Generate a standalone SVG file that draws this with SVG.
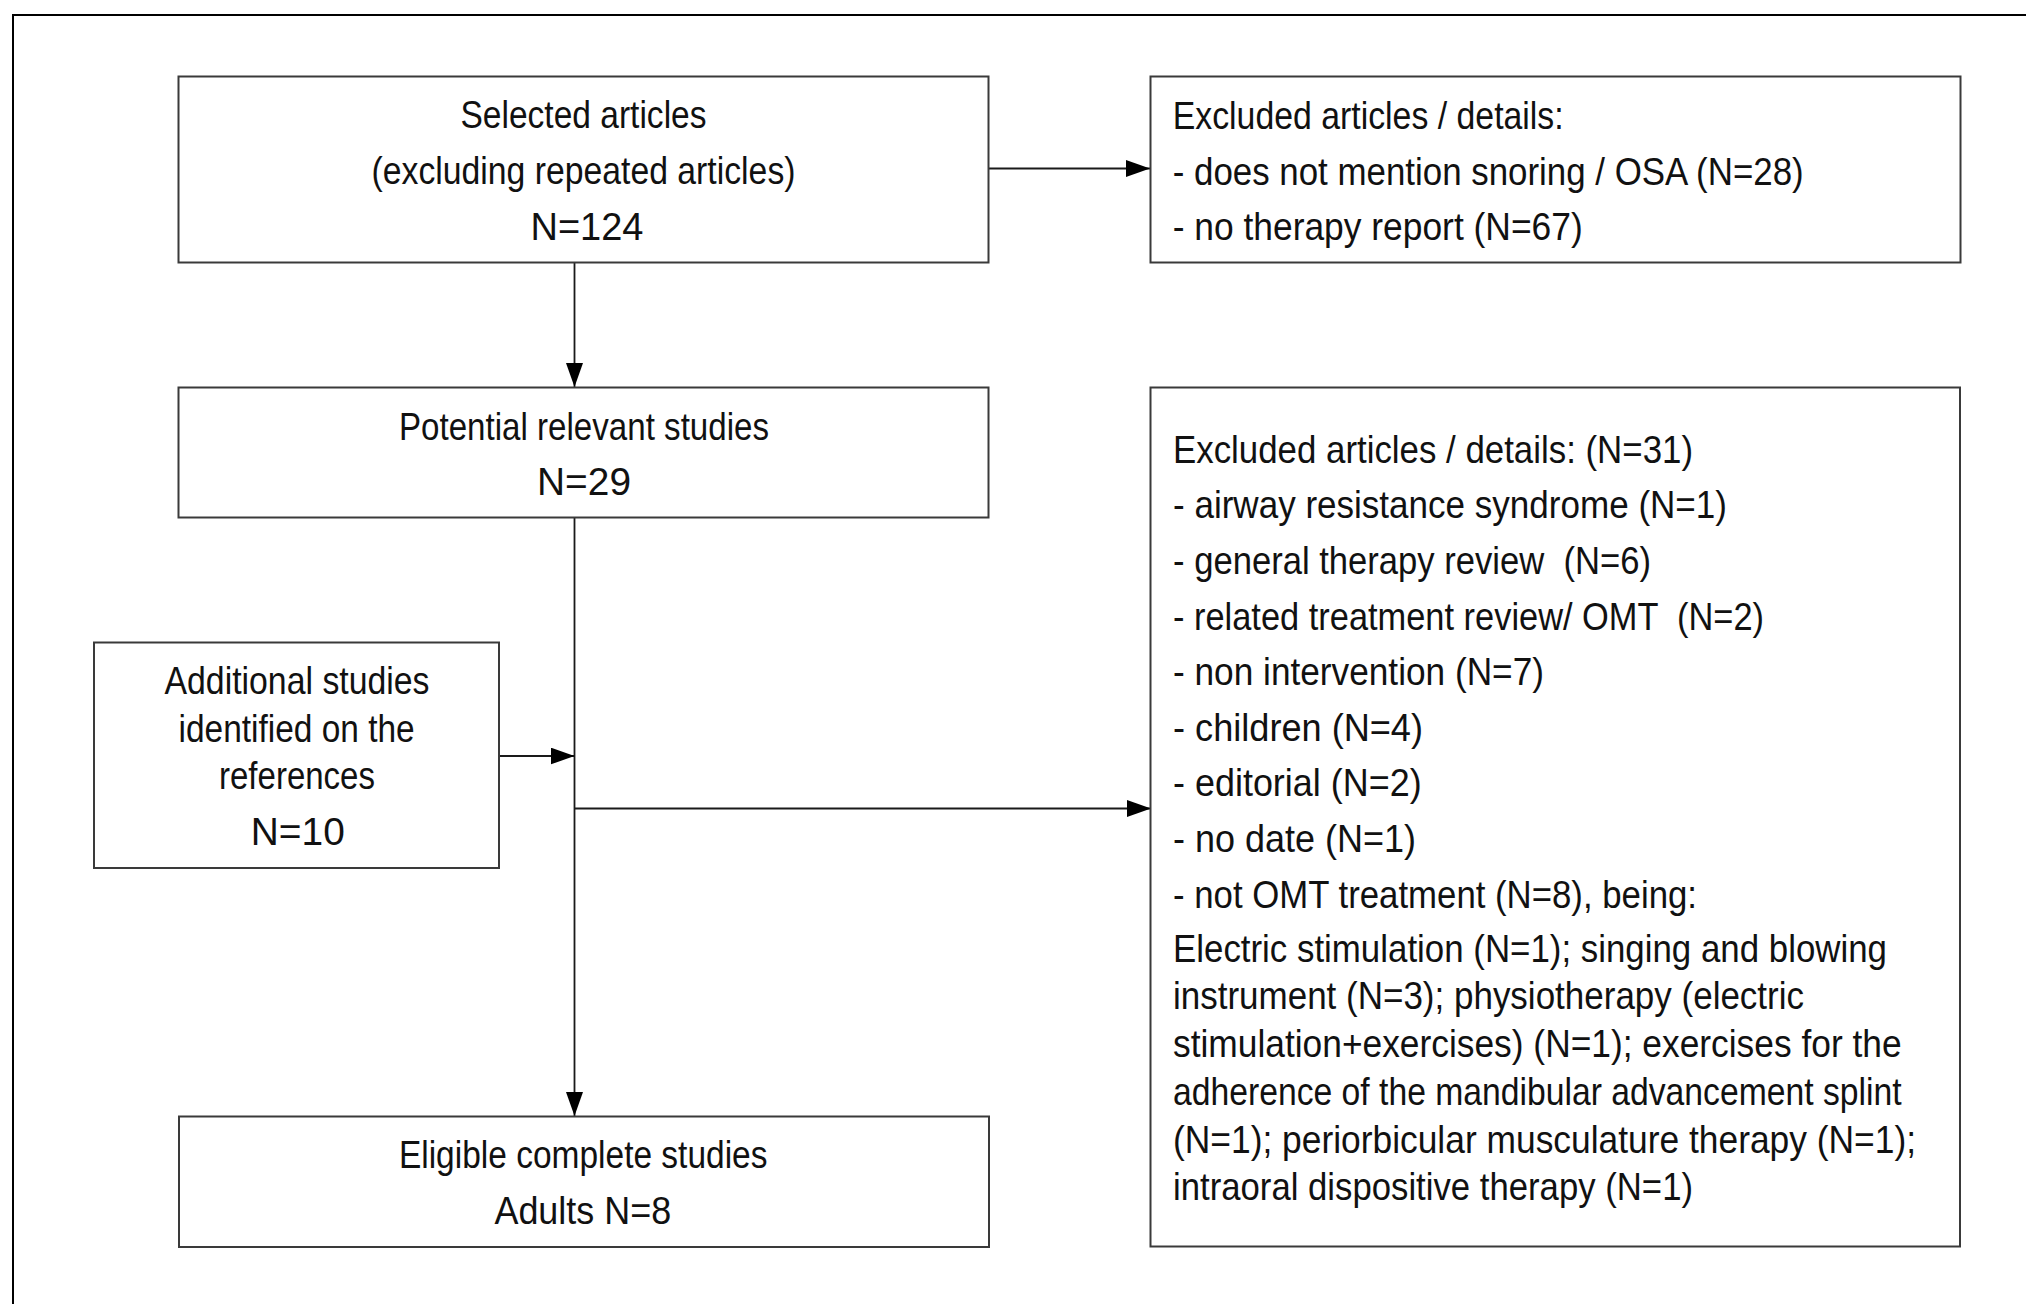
<svg xmlns="http://www.w3.org/2000/svg" width="2026" height="1304" viewBox="0 0 2026 1304">
<style>
.box{fill:#fff;stroke:#3a3a3a;stroke-width:2}
.t{font-family:"Liberation Sans",Arial,sans-serif;font-size:39px;fill:#111;white-space:pre}
.c{text-anchor:middle}
.con{stroke:#1a1a1a;stroke-width:1.8;fill:none}
</style>
<defs>
<marker id="ah" markerUnits="userSpaceOnUse" markerWidth="24" markerHeight="17" refX="24" refY="8.5" orient="auto">
<path d="M0,0 L24,8.5 L0,17 z" fill="#000"/>
</marker>
</defs>
<rect x="0" y="0" width="2026" height="1304" fill="#fff"/>
<path d="M13,1310 L13,15 L2030,15" fill="none" stroke="#000" stroke-width="2"/>

<g id="connectors">
<line class="con" x1="988.5" y1="168.5" x2="1150" y2="168.5" marker-end="url(#ah)"/>
<line class="con" x1="574.5" y1="263" x2="574.5" y2="387" marker-end="url(#ah)"/>
<line class="con" x1="574.5" y1="518" x2="574.5" y2="1116" marker-end="url(#ah)"/>
<line class="con" x1="499" y1="756" x2="574.5" y2="756" marker-end="url(#ah)"/>
<line class="con" x1="574.5" y1="808.5" x2="1151" y2="808.5" marker-end="url(#ah)"/>
</g>

<g id="selected">
<rect class="box" x="178.5" y="76.5" width="810" height="186"/>
<text class="t c" x="583.5" y="128" textLength="246" lengthAdjust="spacingAndGlyphs">Selected articles</text>
<text class="t c" x="583.5" y="184" textLength="424" lengthAdjust="spacingAndGlyphs">(excluding repeated articles)</text>
<text class="t c" x="587" y="240" textLength="113" lengthAdjust="spacingAndGlyphs">N=124</text>
</g>

<g id="excluded1">
<rect class="box" x="1150.5" y="76.5" width="810" height="186"/>
<text class="t" x="1172.7" y="129" textLength="391" lengthAdjust="spacingAndGlyphs">Excluded articles / details:</text>
<text class="t" x="1172.7" y="185" textLength="631" lengthAdjust="spacingAndGlyphs">- does not mention snoring / OSA (N=28)</text>
<text class="t" x="1172.7" y="240" textLength="410" lengthAdjust="spacingAndGlyphs">- no therapy report (N=67)</text>
</g>

<g id="potential">
<rect class="box" x="178.5" y="387.5" width="810" height="130"/>
<text class="t c" x="584" y="440" textLength="370" lengthAdjust="spacingAndGlyphs">Potential relevant studies</text>
<text class="t c" x="584" y="495" textLength="94" lengthAdjust="spacingAndGlyphs">N=29</text>
</g>

<g id="additional">
<rect class="box" x="94" y="642.5" width="405" height="225.5"/>
<text class="t c" x="297" y="694" textLength="265" lengthAdjust="spacingAndGlyphs">Additional studies</text>
<text class="t c" x="296.6" y="741.5" textLength="236" lengthAdjust="spacingAndGlyphs">identified on the</text>
<text class="t c" x="297" y="789" textLength="156" lengthAdjust="spacingAndGlyphs">references</text>
<text class="t c" x="297.8" y="845" textLength="94" lengthAdjust="spacingAndGlyphs">N=10</text>
</g>

<g id="excluded2">
<rect class="box" x="1150.5" y="387.5" width="809.5" height="859"/>
<text class="t" x="1173" y="462.5" textLength="520" lengthAdjust="spacingAndGlyphs">Excluded articles / details: (N=31)</text>
<text class="t" x="1173" y="518.3" textLength="554" lengthAdjust="spacingAndGlyphs">- airway resistance syndrome (N=1)</text>
<text class="t" x="1173" y="574" textLength="478" lengthAdjust="spacingAndGlyphs">- general therapy review  (N=6)</text>
<text class="t" x="1173" y="630" textLength="591" lengthAdjust="spacingAndGlyphs">- related treatment review/ OMT  (N=2)</text>
<text class="t" x="1173" y="685.3" textLength="371" lengthAdjust="spacingAndGlyphs">- non intervention (N=7)</text>
<text class="t" x="1173" y="740.7" textLength="250" lengthAdjust="spacingAndGlyphs">- children (N=4)</text>
<text class="t" x="1173" y="796" textLength="248.6" lengthAdjust="spacingAndGlyphs">- editorial (N=2)</text>
<text class="t" x="1173" y="851.7" textLength="243" lengthAdjust="spacingAndGlyphs">- no date (N=1)</text>
<text class="t" x="1173" y="907.7" textLength="524" lengthAdjust="spacingAndGlyphs">- not OMT treatment (N=8), being:</text>
<text class="t" x="1173" y="961.7" textLength="714" lengthAdjust="spacingAndGlyphs">Electric stimulation (N=1); singing and blowing</text>
<text class="t" x="1173" y="1009" textLength="631" lengthAdjust="spacingAndGlyphs">instrument (N=3); physiotherapy (electric</text>
<text class="t" x="1173" y="1056.7" textLength="728.6" lengthAdjust="spacingAndGlyphs">stimulation+exercises) (N=1); exercises for the</text>
<text class="t" x="1173" y="1105" textLength="728.6" lengthAdjust="spacingAndGlyphs">adherence of the mandibular advancement splint</text>
<text class="t" x="1173" y="1153" textLength="743" lengthAdjust="spacingAndGlyphs">(N=1); periorbicular musculature therapy (N=1);</text>
<text class="t" x="1173" y="1200" textLength="520" lengthAdjust="spacingAndGlyphs">intraoral dispositive therapy (N=1)</text>
</g>

<g id="eligible">
<rect class="box" x="179" y="1116.5" width="810" height="130.5"/>
<text class="t c" x="583.2" y="1168.3" textLength="368.6" lengthAdjust="spacingAndGlyphs">Eligible complete studies</text>
<text class="t c" x="582.8" y="1224" textLength="176.7" lengthAdjust="spacingAndGlyphs">Adults N=8</text>
</g>
</svg>
